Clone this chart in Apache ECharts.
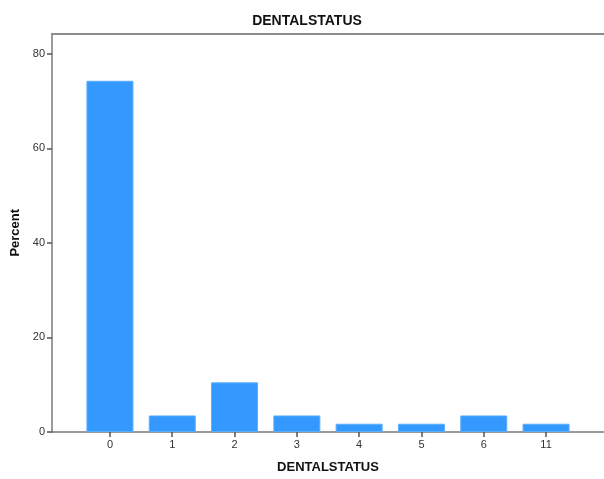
<!DOCTYPE html>
<html>
<head>
<meta charset="utf-8">
<script src="https://cdn.jsdelivr.net/npm/echarts@6/dist/echarts.min.js"></script>
<style>
html,body{margin:0;padding:0;background:#fff;}
#chart{width:604px;height:479px;}
</style>
</head>
<body>
<div id="chart"></div>
<script>
var categories = ['0', '1', '2', '3', '4', '5', '6', '11'];
var percents = [74.3, 3.5, 10.5, 3.5, 1.75, 1.75, 3.5, 1.75];
var yTicks = [0, 20, 40, 60, 80];

var chart = echarts.init(document.getElementById('chart'), null, {renderer: 'canvas'});
var idx = categories.map(function (c, i) { return i; });
var font = 'Liberation Sans, Arial, sans-serif';

chart.setOption({
  animation: false,
  backgroundColor: '#ffffff',
  title: {
    text: 'DENTALSTATUS',
    left: 302, top: 9, textAlign: 'center',
    textStyle: {fontFamily: font, fontSize: 14, fontWeight: 'bold', color: '#111'}
  },
  grid: {left: 52, right: 0, top: 33.5, bottom: 44, containLabel: false},
  xAxis: [{
    type: 'value',
    min: -0.93, max: 7.93,
    splitLine: {show: false},
    axisLine: {show: true, onZero: false, lineStyle: {color: '#7a7a7a', width: 1.5}},
    axisTick: {show: true, customValues: idx, length: 5, lineStyle: {color: '#555', width: 1.5}},
    axisLabel: {
      customValues: idx, margin: 7,
      formatter: function (v) { return categories[Math.round(v)]; },
      fontFamily: font, fontSize: 11, color: '#333'
    },
    name: 'DENTALSTATUS', nameLocation: 'middle', nameGap: 29,
    nameTextStyle: {fontFamily: font, fontSize: 13, fontWeight: 'bold', color: '#111'}
  }, {
    type: 'value', position: 'top',
    min: -0.93, max: 7.93,
    splitLine: {show: false},
    axisLine: {show: true, onZero: false, lineStyle: {color: '#8c8c8c', width: 2}},
    axisTick: {show: false}, axisLabel: {show: false}
  }],
  yAxis: {
    type: 'value', min: 0, max: 84.3, interval: 20,
    position: 'left',
    splitLine: {show: false},
    axisLine: {show: true, onZero: false, lineStyle: {color: '#7a7a7a', width: 1.5}},
    axisTick: {show: true, customValues: yTicks, length: 5, lineStyle: {color: '#555', width: 1.5}},
    axisLabel: {
      customValues: yTicks, margin: 7,
      fontFamily: font, fontSize: 11, color: '#333'
    },
    name: 'Percent', nameLocation: 'middle', nameGap: 29, nameRotate: 90,
    nameTextStyle: {fontFamily: font, fontSize: 13, fontWeight: 'bold', color: '#111'}
  },
  series: [{
    type: 'bar',
    xAxisIndex: 0,
    barWidth: 47,
    data: percents.map(function (v, i) { return [i, v]; }),
    itemStyle: {color: '#3399ff', borderColor: '#5aaeff', borderWidth: 1}
  }]
});
</script>
</body>
</html>
